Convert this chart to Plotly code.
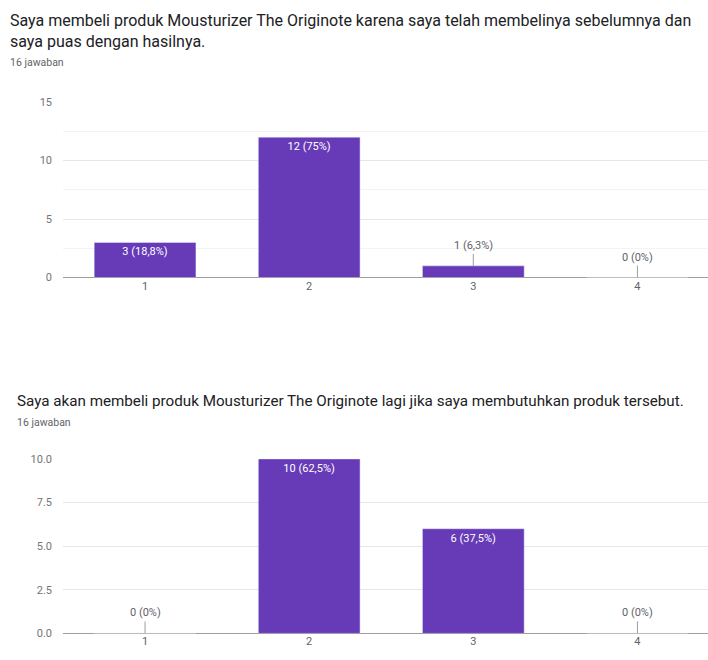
import plotly.graph_objects as go
from decimal import Decimal, ROUND_HALF_UP

categories = [1, 2, 3, 4]
counts_top = [3, 12, 1, 0]
counts_bottom = [0, 10, 6, 0]
total_top = 16
total_bottom = 16

title_top = "Saya membeli produk Mousturizer The Originote karena saya telah membelinya sebelumnya dan<br>saya puas dengan hasilnya."
title_bottom = "Saya akan membeli produk Mousturizer The Originote lagi jika saya membutuhkan produk tersebut."
sub_top = "16 jawaban"
sub_bottom = "16 jawaban"

yticks_top = [0, 5, 10, 15]
yticks_bottom = [0, 2.5, 5, 7.5, 10]
yticklabels_bottom = ["0.0", "2.5", "5.0", "7.5", "10.0"]

PURPLE = "#673ab7"
FONT = "Roboto"
W, H = 708, 660


def fmt(c, total):
    p = (Decimal(c) * 100 / Decimal(total)).quantize(Decimal("0.1"), rounding=ROUND_HALF_UP)
    s = str(p.normalize()) if p != p.to_integral() else str(int(p))
    s = s.replace(".", ",")
    return f"{c} ({s}%)"


fig = go.Figure()


def add_chart(counts, total, xa, ya, ymax):
    inside = [fmt(c, total) if c / ymax >= 0.15 else "" for c in counts]
    fig.add_trace(go.Bar(
        x=categories, y=counts, marker_color=PURPLE, width=0.62,
        text=inside, textposition="inside", insidetextanchor="end",
        textfont=dict(color="white", size=11, family=FONT),
        xaxis=xa, yaxis=ya, showlegend=False, hoverinfo="skip",
        constraintext="none",
    ))
    for cat, c in zip(categories, counts):
        if c / ymax < 0.15:
            fig.add_annotation(
                x=cat, y=c, xref=xa, yref=ya, text=fmt(c, total),
                showarrow=True, arrowhead=0, arrowwidth=1, arrowcolor="#9e9e9e",
                ax=0, ay=-12, yanchor="bottom",
                font=dict(size=11, color="#5f6368", family=FONT),
            )


add_chart(counts_top, total_top, "x", "y", 15)
add_chart(counts_bottom, total_bottom, "x2", "y2", 10)

xdom = [63 / W, 1.0]
xcommon = dict(range=[0.5, 4.43], tickvals=categories, showgrid=False, zeroline=False,
               showline=False, ticks="", tickfont=dict(size=11, color="#5f6368", family=FONT),
               fixedrange=True)
ycommon = dict(showline=False, zeroline=True, zerolinecolor="#9e9e9e", zerolinewidth=1,
               gridcolor="#e6e6e6", gridwidth=1, ticks="",
               tickfont=dict(size=11, color="#757575", family=FONT), ticklabelstandoff=10,
               fixedrange=True)

fig.update_layout(
    width=W, height=H, margin=dict(l=0, r=0, t=0, b=0),
    paper_bgcolor="white", plot_bgcolor="white", bargap=0.38,
    font=dict(family=FONT),
    xaxis=dict(domain=xdom, anchor="y", **xcommon),
    yaxis=dict(domain=[1 - 277 / H, 1 - 98 / H], anchor="x", range=[0, 15],
               tickvals=yticks_top,
               minor=dict(dtick=2.5, showgrid=True, gridcolor="#f3f3f3"), **ycommon),
    xaxis2=dict(domain=xdom, anchor="y2", **xcommon),
    yaxis2=dict(domain=[1 - 640 / H, 1 - 462 / H], anchor="x2", range=[0, 10],
                tickvals=yticks_bottom, ticktext=yticklabels_bottom, **ycommon),
)

fig.add_annotation(x=8 / W, y=1 - 3 / H, xref="paper", yref="paper", text=title_top,
                   showarrow=False, xanchor="left", yanchor="top", align="left",
                   font=dict(size=16, color="#202124", family=FONT))
fig.add_annotation(x=8 / W, y=1 - 49 / H, xref="paper", yref="paper", text=sub_top,
                   showarrow=False, xanchor="left", yanchor="top",
                   font=dict(size=10.5, color="#5f6368", family=FONT))
fig.add_annotation(x=15 / W, y=1 - 392 / H, xref="paper", yref="paper", text=title_bottom,
                   showarrow=False, xanchor="left", yanchor="top", align="left",
                   font=dict(size=15.2, color="#202124", family=FONT))
fig.add_annotation(x=15 / W, y=1 - 416 / H, xref="paper", yref="paper", text=sub_bottom,
                   showarrow=False, xanchor="left", yanchor="top",
                   font=dict(size=10.5, color="#5f6368", family=FONT))

fig.write_html("out.html")
